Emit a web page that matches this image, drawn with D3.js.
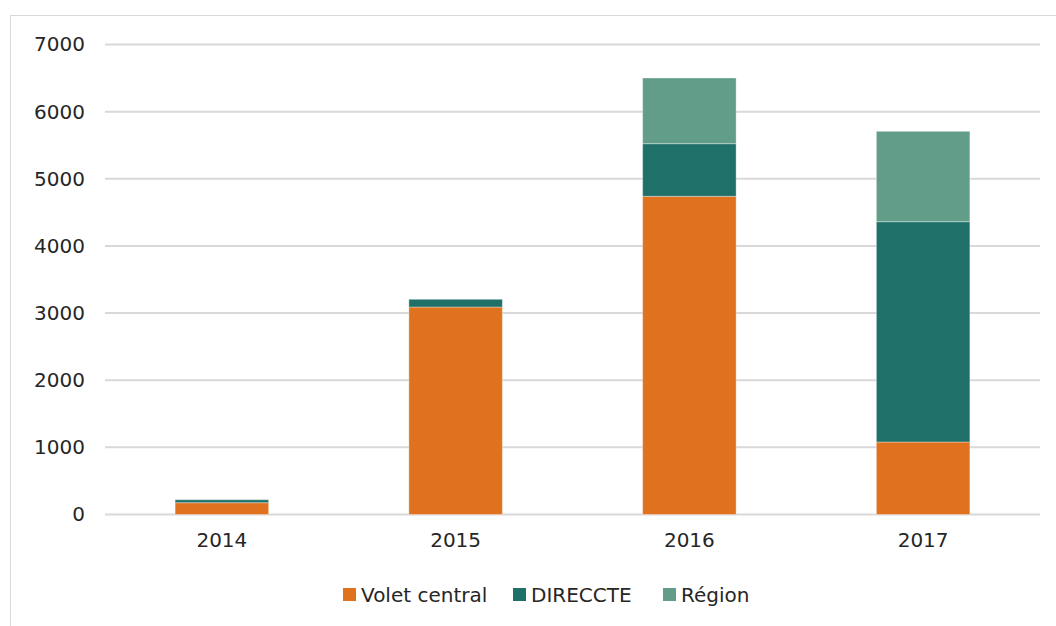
<!DOCTYPE html>
<html><head><meta charset="utf-8">
<script src="https://cdn.jsdelivr.net/npm/d3@7"></script>
<style>body{margin:0;background:#fff;}svg{display:block;font-family:"DejaVu Sans",Arial,sans-serif;}</style>
</head><body>
<svg id="c" width="1056" height="626"></svg>
<script>
const years = ["2014","2015","2016","2017"];
const seriesNames = ["Volet central","DIRECCTE","Région"];
const voletCentral = [176, 3090, 4739, 1080];
const direccte = [44, 115, 784, 3281];
const region = [0, 0, 978, 1346];
const yTicks = [0,1000,2000,3000,4000,5000,6000,7000];
const colors = ["#E0711F","#1F7068","#629D89"];
const FONT = "DejaVu Sans, Arial, sans-serif";

const svg = d3.select("#c");
svg.append("rect").attr("x",10.5).attr("y",15.5).attr("width",1100).attr("height",700)
  .attr("fill","#fff").attr("stroke","#d9d9d9").attr("stroke-width",1);

const x = d3.scaleBand().domain(years).range([105,1040]).paddingInner(0.6).paddingOuter(0.3);
const y = d3.scaleLinear().domain([0,7000]).range([514.5,44.5]);

svg.append("g").selectAll("line").data(yTicks).join("line")
  .attr("x1",105).attr("x2",1040).attr("y1",d=>y(d)).attr("y2",d=>y(d))
  .attr("stroke","#d9d9d9").attr("stroke-width",2);

const yAxis = d3.axisLeft(y).tickValues(yTicks).tickSize(0).tickPadding(0).tickFormat(d3.format("d"));
const ya = svg.append("g").attr("transform","translate(85,0)").call(yAxis);
ya.select(".domain").remove();
ya.selectAll("text").attr("font-size",20).attr("fill","#262626").attr("font-family",FONT);

const xAxis = d3.axisBottom(x).tickSize(0).tickPadding(0);
const xa = svg.append("g").attr("transform","translate(0,533)").call(xAxis);
xa.select(".domain").remove();
xa.selectAll("text").attr("font-size",20).attr("fill","#262626").attr("font-family",FONT);

const table = years.map((yr,i)=>({year:yr,"Volet central":voletCentral[i],"DIRECCTE":direccte[i],"Région":region[i]}));
const stack = d3.stack().keys(seriesNames)(table);
svg.append("g").selectAll("g").data(stack).join("g").attr("fill",(d,i)=>colors[i])
  .selectAll("rect").data(d=>d).join("rect")
  .attr("x",d=>x(d.data.year)).attr("width",x.bandwidth())
  .attr("y",d=>y(d[1])).attr("height",d=>Math.max(0,y(d[0])-y(d[1])))
  .attr("stroke","#ffffff").attr("stroke-opacity",0.35).attr("stroke-width",1);

// legend
const legendX = [343, 513, 663];
const leg = svg.append("g");
seriesNames.forEach((n,i)=>{
  leg.append("rect").attr("x",legendX[i]).attr("y",588).attr("width",13).attr("height",13).attr("fill",colors[i]);
  leg.append("text").attr("x",legendX[i]+18).attr("y",602).attr("font-size",20)
    .attr("font-family",FONT).attr("fill","#262626").text(n);
});
</script>
</body></html>
